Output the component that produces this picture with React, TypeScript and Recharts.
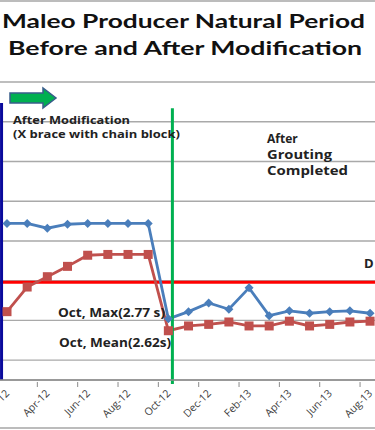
import { LineChart, Line, XAxis, YAxis, CartesianGrid, ReferenceLine } from "recharts";

// monthly natural period readings (s), Feb-12 .. Aug-13
const months = [
  "Feb-12", "Mar-12", "Apr-12", "May-12", "Jun-12", "Jul-12", "Aug-12", "Sep-12", "Oct-12", "Nov-12",
  "Dec-12", "Jan-13", "Feb-13", "Mar-13", "Apr-13", "May-13", "Jun-13", "Jul-13", "Aug-13",
];
const maxPeriod = [3.97, 3.97, 3.91, 3.96, 3.97, 3.97, 3.97, 3.97, 2.77, 2.86, 2.97, 2.89, 3.16, 2.81, 2.87, 2.84, 2.86, 2.87, 2.84];
const meanPeriod = [2.86, 3.17, 3.3, 3.43, 3.57, 3.58, 3.58, 3.58, 2.62, 2.68, 2.7, 2.73, 2.68, 2.68, 2.74, 2.68, 2.7, 2.73, 2.74];
const labelTicks = [0, 2, 4, 6, 8, 10, 12, 14, 16, 18];
const gridTicks = [2, 2.25, 2.5, 2.75, 3, 3.25, 3.5, 3.75, 4, 4.25, 4.5, 4.75, 5, 5.25, 5.5, 5.75];
const designPeriod = 3.23;
const modificationAt = -0.27;
const groutingAt = 8.2;

const data = months.map((m, i) => ({ i, month: m, max: maxPeriod[i], mean: meanPeriod[i] }));

const W = 375;
const H = 430;
const FONT = "'Open Sans', sans-serif";

const MonthTick = ({ x, y, payload }: any) => (
  <g>
    <line x1={x - 10} x2={x - 10} y1={y} y2={y + 5} stroke="#8c8c8c" strokeWidth={1} />
    <text
      x={x + 3}
      y={y + 12}
      transform={`rotate(-45 ${x + 3} ${y + 12})`}
      textAnchor="end"
      fontSize={10.5}
      fontFamily={FONT}
      fill="#404040"
    >
      {months[payload.value]}
    </text>
  </g>
);

const Diamond = ({ cx, cy }: any) => (
  <polygon points={`${cx},${cy - 4.5} ${cx + 4.5},${cy} ${cx},${cy + 4.5} ${cx - 4.5},${cy}`} fill="#4a7ebb" />
);

const Square = ({ cx, cy }: any) => <rect x={cx - 4.5} y={cy - 4.5} width={9} height={9} fill="#c0504d" />;

export default function App() {
  return (
    <div style={{ position: "absolute", left: 0, top: 0, width: W, height: H, background: "#fff" }}>
      <LineChart width={W} height={H} data={data} margin={{ top: 82, right: 0, left: 0, bottom: 0 }}>
        <CartesianGrid vertical={false} stroke="#a9a9a9" strokeWidth={1.4} />
        <XAxis
          type="number"
          dataKey="i"
          domain={[-0.347, 18.245]}
          allowDataOverflow
          ticks={labelTicks}
          interval={0}
          height={50}
          tickSize={0}
          tickLine={false}
          tick={<MonthTick />}
          axisLine={{ stroke: "#8c8c8c", strokeWidth: 1.4 }}
        />
        <YAxis type="number" domain={[2, 5.75]} ticks={gridTicks} hide width={0} allowDataOverflow />
        <ReferenceLine y={designPeriod} stroke="#ff0000" strokeWidth={3} />
        <ReferenceLine
          segment={[{ x: modificationAt, y: 5.486 }, { x: modificationAt, y: 2 }]}
          stroke="#0a0a9c"
          strokeWidth={3}
          ifOverflow="visible"
        />
        <Line
          dataKey="max"
          stroke="#4a7ebb"
          strokeWidth={2.8}
          dot={<Diamond />}
          activeDot={false}
          isAnimationActive={false}
        />
        <Line
          dataKey="mean"
          stroke="#c0504d"
          strokeWidth={2.8}
          dot={<Square />}
          activeDot={false}
          isAnimationActive={false}
        />
        <ReferenceLine
          segment={[{ x: groutingAt, y: 5.42 }, { x: groutingAt, y: 1.95 }]}
          stroke="#00b050"
          strokeWidth={3}
          ifOverflow="visible"
        />
      </LineChart>
      <svg width={W} height={H} style={{ position: "absolute", left: 0, top: 0, pointerEvents: "none" }}>
        <line x1={0} x2={W} y1={1} y2={1} stroke="#a6a6a6" strokeWidth={1.5} />
        <line x1={0} x2={W} y1={428} y2={428} stroke="#a6a6a6" strokeWidth={1.5} />
        <g fontFamily="Lato, sans-serif" fontWeight={700} fontSize={19.5} fill="#111">
          <text x={2} y={28} textLength={363} lengthAdjust="spacingAndGlyphs">Maleo Producer Natural Period</text>
          <text x={8} y={55} textLength={354} lengthAdjust="spacingAndGlyphs">Before and After Modification</text>
        </g>
        <polygon
          points="10,93 43,93 43,88 56,98 43,108 43,103 10,103"
          fill="#00b050"
          stroke="#385d8a"
          strokeWidth={1.5}
        />
        <g fontFamily={FONT} fontWeight={700} fill="#222">
          <text x={13} y={124} fontSize={10.5} textLength={117} lengthAdjust="spacingAndGlyphs">After Modification</text>
          <text x={13} y={137.5} fontSize={10.5} textLength={167} lengthAdjust="spacingAndGlyphs">(X brace with chain block)</text>
          <text x={267} y={143} fontSize={12}>After</text>
          <text x={267} y={159} fontSize={12} textLength={65} lengthAdjust="spacingAndGlyphs">Grouting</text>
          <text x={267} y={175} fontSize={12} textLength={81} lengthAdjust="spacingAndGlyphs">Completed</text>
          <text x={364} y={268} fontSize={13}>D</text>
          <text x={58} y={317} fontSize={11.5} textLength={107} lengthAdjust="spacingAndGlyphs">Oct, Max(2.77 s)</text>
          <text x={59} y={347} fontSize={11.5} textLength={112} lengthAdjust="spacingAndGlyphs">Oct, Mean(2.62s)</text>
        </g>
      </svg>
    </div>
  );
}
